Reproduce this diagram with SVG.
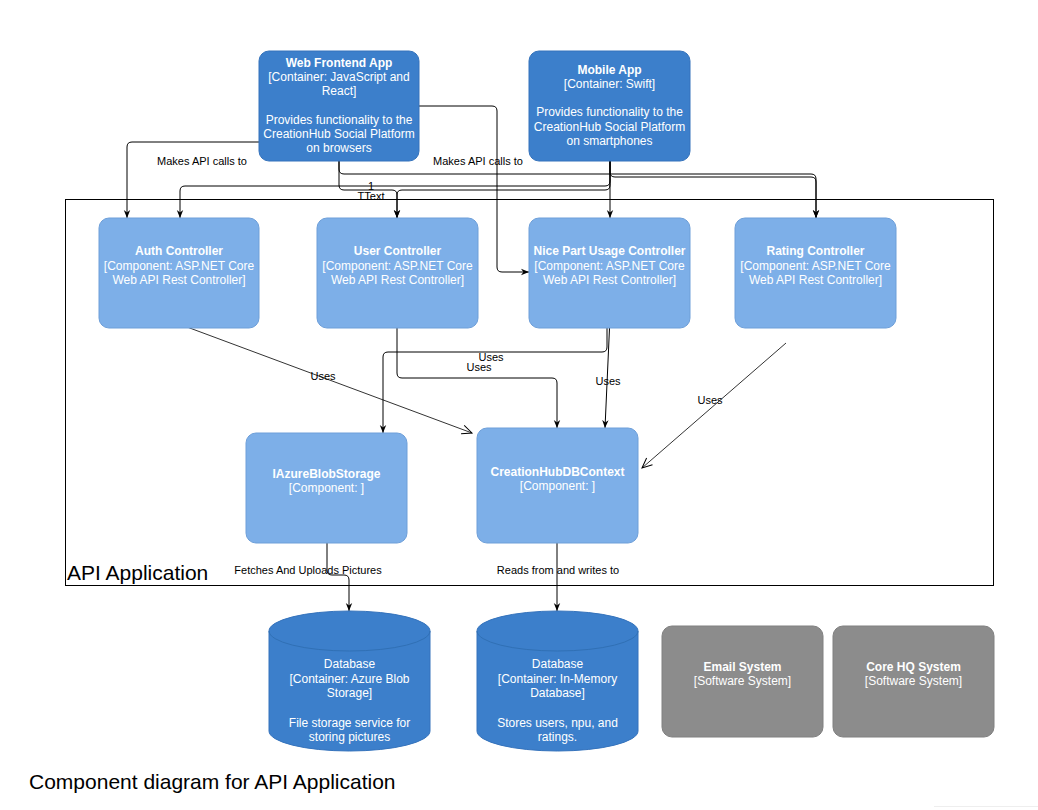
<svg xmlns="http://www.w3.org/2000/svg" width="1038" height="810" viewBox="0 0 1038 810">
<defs>
<marker id="arr" viewBox="0 0 10 10" refX="10" refY="5" markerWidth="8" markerHeight="8" markerUnits="userSpaceOnUse" orient="auto">
<path d="M0,1 L10,5 L0,9 L3,5 Z" fill="#000"/>
</marker>
<marker id="open" viewBox="0 0 12 12" refX="11" refY="6" markerWidth="12" markerHeight="12" markerUnits="userSpaceOnUse" orient="auto">
<path d="M1,1.5 L11,6 L1,10.5" fill="none" stroke="#000" stroke-width="1"/>
</marker>
<style>
text{font-family:"Liberation Sans",Arial,sans-serif;}
.cont{fill:#3C7FCB;stroke:#3573BC;stroke-width:1;}
.comp{fill:#7DAFE8;stroke:#6E9FD9;stroke-width:1;}
.ext{fill:#8C8C8C;stroke:#808080;stroke-width:1;}
.t{fill:#fff;font-size:12px;text-anchor:middle;}
.b{font-weight:bold;}
.e{fill:none;stroke:#000;stroke-width:1;marker-end:url(#arr);}
.eo{fill:none;stroke:#333;stroke-width:1;marker-end:url(#open);}
.lbl{fill:#000;font-size:11px;text-anchor:middle;}
</style>
</defs>
<rect width="1038" height="810" fill="#fff"/>

<g id="api-boundary">
<rect x="65.5" y="199.5" width="928" height="386" fill="none" stroke="#000" stroke-width="1"/>
<text x="67" y="580" font-size="21" fill="#000">API Application</text>
</g>

<g id="connectors">
<path class="e" d="M259,142 H132 Q127,142 127,147 V218"/>
<path class="e" d="M610,161 V181 Q610,186 605,186 H185 Q180,186 180,191 V218"/>
<path class="e" d="M610,161 V185 Q610,190 605,190 H402 Q397,190 397,195 V218"/>
<path class="e" d="M339,161 V185 Q339,190 344,190 H392 Q397,190 397,195 V218"/>
<path class="e" d="M339,161 V169 Q339,174 344,174 H811 Q816,174 816,179 V218"/>
<path class="e" d="M610,161 V172 Q610,177 615,177 H811 Q816,177 816,182 V218"/>
<path class="e" d="M610,161 V218"/>
<path class="e" d="M419,106 H492 Q497,106 497,111 V267 Q497,272 502,272 H529"/>
<path class="eo" d="M187,327 L472,433"/>
<path class="e" d="M397,328 V373 Q397,378 402,378 H552 Q557,378 557,383 V428"/>
<path class="e" d="M607,328 V347 Q607,352 602,352 H388 Q383,352 383,357 V433"/>
<path class="e" d="M609.5,328 L605,428"/>
<path class="eo" d="M786,343 L642,468"/>
<path class="e" d="M327,543 V570 Q327,575 332,575 H344 Q349,575 349,580 V611"/>
<path class="e" d="M557,543 V611"/>
<text class="lbl" x="202" y="165">Makes API calls to</text>
<text class="lbl" x="478" y="165">Makes API calls to</text>
<text class="lbl" x="371" y="190">1</text>
<text class="lbl" x="371" y="200">TText</text>
<text class="lbl" x="323" y="380">Uses</text>
<text class="lbl" x="491" y="361">Uses</text>
<text class="lbl" x="479" y="371">Uses</text>
<text class="lbl" x="608" y="385">Uses</text>
<text class="lbl" x="710" y="404">Uses</text>
<text class="lbl" x="308" y="574">Fetches And Uploads Pictures</text>
<text class="lbl" x="558" y="574">Reads from and writes to</text>
</g>

<g id="web-frontend-app">
<rect class="cont" x="259" y="51" width="160" height="110" rx="10"/>
<text class="t b" x="339" y="67">Web Frontend App</text>
<text class="t" x="339" y="81">[Container: JavaScript and</text>
<text class="t" x="339" y="95">React]</text>
<text class="t" x="339" y="124">Provides functionality to the</text>
<text class="t" x="339" y="138">CreationHub Social Platform</text>
<text class="t" x="339" y="152">on browsers</text>
</g>

<g id="mobile-app">
<rect class="cont" x="529" y="51" width="161" height="110" rx="10"/>
<text class="t b" x="609.5" y="74">Mobile App</text>
<text class="t" x="609.5" y="88">[Container: Swift]</text>
<text class="t" x="609.5" y="116">Provides functionality to the</text>
<text class="t" x="609.5" y="130.5">CreationHub Social Platform</text>
<text class="t" x="609.5" y="144.5">on smartphones</text>
</g>

<g id="auth-controller">
<rect class="comp" x="99" y="218" width="160" height="110" rx="10"/>
<text class="t b" x="179" y="255">Auth Controller</text>
<text class="t" x="179" y="270">[Component: ASP.NET Core</text>
<text class="t" x="179" y="284">Web API Rest Controller]</text>
</g>

<g id="user-controller">
<rect class="comp" x="317" y="218" width="161" height="110" rx="10"/>
<text class="t b" x="397.5" y="255">User Controller</text>
<text class="t" x="397.5" y="270">[Component: ASP.NET Core</text>
<text class="t" x="397.5" y="284">Web API Rest Controller]</text>
</g>

<g id="nice-part-usage-controller">
<rect class="comp" x="529" y="218" width="161" height="110" rx="10"/>
<text class="t b" x="609.5" y="255">Nice Part Usage Controller</text>
<text class="t" x="609.5" y="270">[Component: ASP.NET Core</text>
<text class="t" x="609.5" y="284">Web API Rest Controller]</text>
</g>

<g id="rating-controller">
<rect class="comp" x="735" y="218" width="161" height="110" rx="10"/>
<text class="t b" x="815.5" y="255">Rating Controller</text>
<text class="t" x="815.5" y="270">[Component: ASP.NET Core</text>
<text class="t" x="815.5" y="284">Web API Rest Controller]</text>
</g>

<g id="iazure-blob-storage">
<rect class="comp" x="246" y="433" width="161" height="110" rx="10"/>
<text class="t b" x="326.5" y="478">IAzureBlobStorage</text>
<text class="t" x="326.5" y="492">[Component: ]</text>
</g>

<g id="creationhub-dbcontext">
<rect class="comp" x="477" y="428" width="161" height="115" rx="10"/>
<text class="t b" x="557.5" y="476">CreationHubDBContext</text>
<text class="t" x="557.5" y="490">[Component: ]</text>
</g>

<g id="database-blob">
<path class="cont" d="M269,631 A80.5,20 0 0 1 430,631 V731 A80.5,20 0 0 1 269,731 Z"/>
<path d="M269,631 A80.5,20 0 0 0 430,631" fill="none" stroke="#3070B5" stroke-width="1"/>
<text class="t" x="349.5" y="668">Database</text>
<text class="t" x="349.5" y="683">[Container: Azure Blob</text>
<text class="t" x="349.5" y="697">Storage]</text>
<text class="t" x="349.5" y="726.5">File storage service for</text>
<text class="t" x="349.5" y="740.5">storing pictures</text>
</g>

<g id="database-memory">
<path class="cont" d="M477,631 A80.5,20 0 0 1 638,631 V731 A80.5,20 0 0 1 477,731 Z"/>
<path d="M477,631 A80.5,20 0 0 0 638,631" fill="none" stroke="#3070B5" stroke-width="1"/>
<text class="t" x="557.5" y="668">Database</text>
<text class="t" x="557.5" y="683">[Container: In-Memory</text>
<text class="t" x="557.5" y="697">Database]</text>
<text class="t" x="557.5" y="726.5">Stores users, npu, and</text>
<text class="t" x="557.5" y="740.5">ratings.</text>
</g>

<g id="email-system">
<rect class="ext" x="662" y="626" width="161" height="111" rx="10"/>
<text class="t b" x="742.5" y="671">Email System</text>
<text class="t" x="742.5" y="685">[Software System]</text>
</g>

<g id="core-hq-system">
<rect class="ext" x="833" y="626" width="161" height="111" rx="10"/>
<text class="t b" x="913.5" y="671">Core HQ System</text>
<text class="t" x="913.5" y="685">[Software System]</text>
</g>

<text x="29" y="789" font-size="21" fill="#000">Component diagram for API Application</text>
<path d="M934,806.5 H1038" stroke="#eeeeee" stroke-width="1" fill="none"/>
</svg>
